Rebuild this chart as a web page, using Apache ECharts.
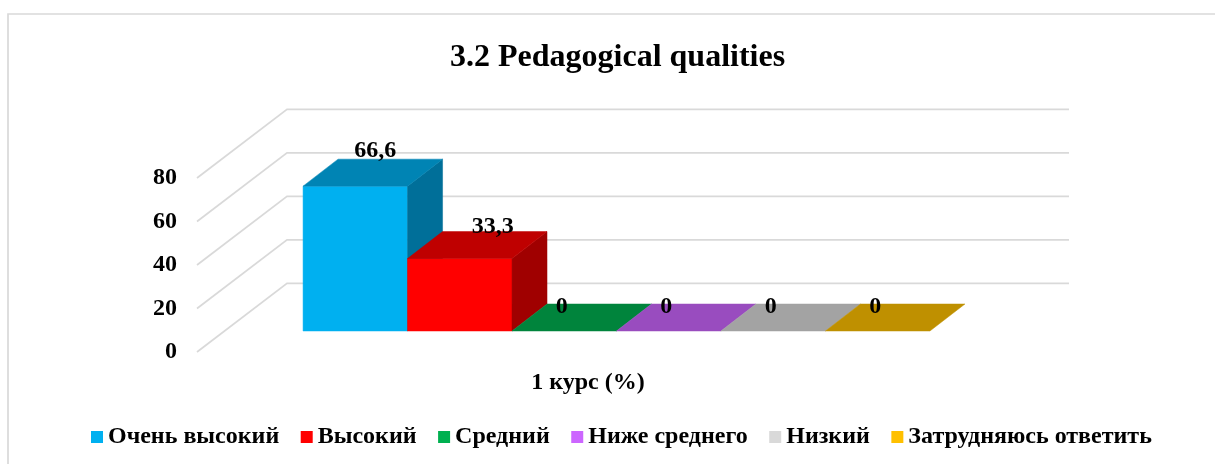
<!DOCTYPE html>
<html><head><meta charset="utf-8">
<style>html,body{margin:0;padding:0;background:#fff}#c{width:1215px;height:464px}</style>
<script src="https://cdn.jsdelivr.net/npm/echarts@6/dist/echarts.min.js"></script>
</head><body><div id="c"></div>
<script>
const titleText = '3.2 Pedagogical qualities';
const categories = ['1 курс (%)'];
const seriesNames = ['Очень высокий','Высокий','Средний','Ниже среднего','Низкий','Затрудняюсь ответить'];
const seriesValues = [66.6,33.3,0,0,0,0];
const valueTicks = [0,20,40,60,80];
const frontColors = ['#00B0F0','#FF0000','#00B050','#CC66FF','#D9D9D9','#FFC000'];
const topColors = ['#0084B4','#BF0000','#00843C','#994CBF','#A3A3A3','#BF9000'];
const sideColors = ['#006F99','#A00000','#006F33','#8040A0','#8A8A8A','#A07800'];

const FONT = '"Liberation Serif","Times New Roman",serif';
const WALL = {dx:90, dy:-68.7};
const BAR_PLANE = {dx:28.5, dy:-21};
const BAR_DEPTH = {dx:35, dy:-27};
const BAR_SHARE = 0.1336;
const LABEL_SHIFT = [[20,0],[33,0],[-2.5,3],[-2.5,3],[-2.5,3],[-2.5,3]];
const LABEL_LIFT = 1.06;

function poly(points, fill){
  return {type:'polygon', shape:{points}, style:{fill, stroke:fill, lineWidth:0.5}};
}
function renderBar(i){
  return function(params, api){
    const v = api.value(1);
    const band = api.size([1,0])[0];
    const w = band*BAR_SHARE;
    const c = api.coord([0,0]);
    const t = api.coord([0,v]);
    const x0 = c[0]-3*w+i*w+BAR_PLANE.dx, x1 = x0+w;
    const yb = c[1]+BAR_PLANE.dy, yt = t[1]+BAR_PLANE.dy;
    const dx = BAR_DEPTH.dx, dy = BAR_DEPTH.dy;
    const children = [];
    if(v>0){
      children.push(poly([[x0,yb],[x1,yb],[x1,yt],[x0,yt]],frontColors[i]));
      children.push(poly([[x1,yb],[x1+dx,yb+dy],[x1+dx,yt+dy],[x1,yt]],sideColors[i]));
    }
    children.push(poly([[x0,yt],[x1,yt],[x1+dx,yt+dy],[x0+dx,yt+dy]],topColors[i]));
    const lab = api.coord([0,v*LABEL_LIFT]);
    children.push({type:'text',z2:50,style:{
      text:String(v).replace('.',','),
      x:(x0+x1)/2+LABEL_SHIFT[i][0],
      y:lab[1]+BAR_PLANE.dy+dy+LABEL_SHIFT[i][1],
      align:'center',verticalAlign:'middle',
      font:'bold 24px '+FONT,fill:'#000'}});
    return {type:'group',children};
  };
}
function renderWall(params, api){
  const v = api.value(0);
  const a = api.coord([0,v]);
  const s = params.coordSys;
  const xl = s.x, xr = s.x+s.width;
  return {type:'polyline',shape:{points:[[xl,a[1]],[xl+WALL.dx,a[1]+WALL.dy],[xr+WALL.dx,a[1]+WALL.dy]]},
    style:{stroke:'#D9D9D9',lineWidth:1.7,fill:null}};
}
const series = [{
  type:'custom',name:'__wall',silent:true,clip:false,z:1,
  data:valueTicks.map(v=>[v]),encode:{y:0},renderItem:renderWall
}].concat(seriesNames.map((name,i)=>({
  type:'custom',name,clip:false,z:2+i,
  itemStyle:{color:frontColors[i]},
  data:[[0,seriesValues[i]]],encode:{x:0,y:1},
  renderItem:renderBar(i)
})));
const chart = echarts.init(document.getElementById('c'),null,{renderer:'canvas'});
chart.setOption({
  animation:false,
  backgroundColor:'#fff',
  title:{text:titleText,left:450,top:42,padding:0,textStyle:{fontFamily:FONT,fontWeight:'bold',fontSize:32,color:'#000'}},
  grid:{left:197,right:236,top:178,bottom:112,containLabel:false},
  xAxis:{type:'category',data:categories,axisLine:{show:false},axisTick:{show:false},
    axisLabel:{margin:19,fontFamily:FONT,fontWeight:'bold',fontSize:24,color:'#000'}},
  yAxis:{type:'value',min:0,max:80,interval:20,axisLine:{show:false},axisTick:{show:false},splitLine:{show:false},
    axisLabel:{margin:20,padding:[0,0,4,0],fontFamily:FONT,fontWeight:'bold',fontSize:24,color:'#000'}},
  legend:{data:seriesNames,left:91,top:425,padding:0,itemWidth:12,itemHeight:12,itemGap:21.5,icon:'rect',
    textStyle:{fontFamily:FONT,fontWeight:'bold',fontSize:24,color:'#000'}},
  graphic:[{type:'polyline',silent:true,shape:{points:[[8,464],[8,14],[1215,14]]},style:{stroke:'#D9D9D9',lineWidth:1.7,fill:null}}],
  series
});
</script></body></html>
